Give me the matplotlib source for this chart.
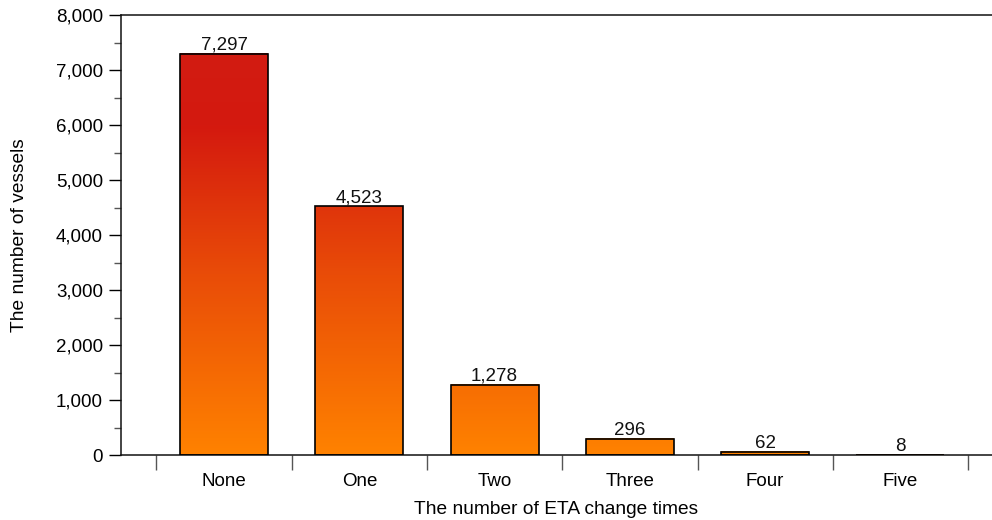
import matplotlib
matplotlib.use("Agg")
import matplotlib.pyplot as plt
import numpy as np
from matplotlib.colors import LinearSegmentedColormap, Normalize
from matplotlib.ticker import MultipleLocator, FixedLocator

categories = ["None", "One", "Two", "Three", "Four", "Five"]
values = [7297, 4523, 1278, 296, 62, 8]
yticks = [0, 1000, 2000, 3000, 4000, 5000, 6000, 7000, 8000]

plt.rcParams['font.family'] = ['Liberation Sans', 'DejaVu Sans']

fig = plt.figure(figsize=(9.92, 5.2), dpi=100)
ax = fig.add_axes([121/992, 65/520, 1 - 121/992, 440/520])

cmap = LinearSegmentedColormap.from_list(
    "eta", [(0.0, "#ff8200"), (0.45, "#e94c08"), (0.82, "#d4190f"), (1.0, "#d21c12")])
norm = Normalize(0, 7297)

x = np.arange(len(categories))
width = 0.65
for xi, v in zip(x, values):
    grad = np.linspace(0, v, 256).reshape(-1, 1)
    ax.imshow(grad, cmap=cmap, norm=norm, origin='lower', aspect='auto',
              extent=(xi - width/2, xi + width/2, 0, v), zorder=2, interpolation='bilinear')
bars = ax.bar(x, values, width=width, facecolor='none', edgecolor='black', linewidth=1.2, zorder=3)
for xi, v in zip(x, values):
    ax.annotate(f"{v:,}", (xi, v), xytext=(0, 0), textcoords='offset points',
                ha='center', va='bottom', fontsize=13.5, color='#111111')

ax.set_xlim(-0.762, 5.677)
ax.set_ylim(0, 8000)

ax.set_yticks(yticks)
ax.set_yticklabels([f"{t:,}" for t in yticks], fontsize=13.5)
ax.yaxis.set_minor_locator(MultipleLocator(500))
ax.tick_params(axis='y', which='major', length=9, width=1, color='black', pad=4)
ax.tick_params(axis='y', which='minor', length=5, width=1, color='#555555')

ax.set_xticks(x)
ax.set_xticklabels(categories, fontsize=13.5)
ax.xaxis.set_minor_locator(FixedLocator(np.arange(-0.5, 6, 1.0)))
ax.tick_params(axis='x', which='major', length=0, pad=13)
ax.tick_params(axis='x', which='minor', length=11, width=1, color='#555555')

ax.spines['right'].set_visible(False)
for s in ['left', 'top', 'bottom']:
    ax.spines[s].set_linewidth(1.1)
    ax.spines[s].set_color('#111111')

ax.set_ylabel("The number of vessels", fontsize=13.8, labelpad=20)
ax.set_xlabel("The number of ETA change times", fontsize=13.8, labelpad=8)

fig.savefig("out.png", dpi=100)
